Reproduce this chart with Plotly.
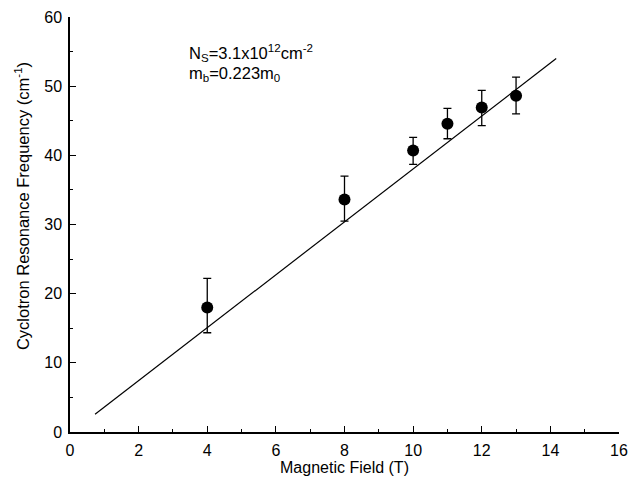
import plotly.graph_objects as go

field = [4, 8, 10, 11, 12, 13]
freq = [18.0, 33.6, 40.7, 44.55, 46.9, 48.6]
err_plus = [4.2, 3.4, 1.9, 2.25, 2.5, 2.7]
err_minus = [3.65, 3.1, 2.0, 2.15, 2.6, 2.6]
fit_x = [0.73, 14.17]
fit_y = [2.56, 54.0]

fig = go.Figure()
fig.add_trace(go.Scatter(x=fit_x, y=fit_y, mode="lines",
                         line=dict(color="black", width=1.2), showlegend=False))
fig.add_trace(go.Scatter(x=field, y=freq, mode="markers",
                         marker=dict(color="black", size=12),
                         error_y=dict(type="data", symmetric=False, array=err_plus,
                                      arrayminus=err_minus, color="black",
                                      thickness=1.3, width=4),
                         showlegend=False))

font = dict(family="Liberation Sans, Arial, sans-serif", color="black")
fig.add_annotation(x=0.213, y=0.913, xref="paper", yref="paper", xanchor="left",
                   yanchor="middle", showarrow=False,
                   text="N<sub>S</sub>=3.1x10<sup>12</sup>cm<sup>-2</sup>",
                   font=dict(size=16.5, **font))
fig.add_annotation(x=0.213, y=0.862, xref="paper", yref="paper", xanchor="left",
                   yanchor="middle", showarrow=False,
                   text="m<sub>b</sub>=0.223m<sub>0</sub>",
                   font=dict(size=16.5, **font))
# y-axis title (placed as in the reference, slightly above the axis centre)
fig.add_annotation(x=-0.087, y=0.545, xref="paper", yref="paper", xanchor="center",
                   yanchor="middle", showarrow=False, textangle=-90,
                   text="Cyclotron Resonance Frequency (cm<sup>-1</sup>)",
                   font=dict(size=16.5, **font))

axis_common = dict(showline=True, linecolor="black", linewidth=1.5, ticks="inside",
                   ticklen=6, tickcolor="black", tickwidth=1.3, showgrid=False,
                   zeroline=False, tickfont=dict(size=16, **font), mirror=False,
                   automargin=False)
fig.update_xaxes(range=[0, 16], dtick=2, tick0=0, ticklabelstandoff=3,
                 minor=dict(ticks="inside", ticklen=3, dtick=1, tickcolor="black"),
                 title=dict(text="Magnetic Field (T)", font=dict(size=16, **font), standoff=3),
                 **axis_common)
fig.update_yaxes(range=[0, 60], dtick=10, tick0=0, ticklabelstandoff=3,
                 minor=dict(ticks="inside", ticklen=3, dtick=5, tickcolor="black"),
                 **axis_common)
fig.update_layout(width=629, height=489, margin=dict(l=70, r=10, t=17, b=57),
                  plot_bgcolor="white", paper_bgcolor="white", font=font)
fig.write_html("out.html", config={"displayModeBar": False},
               post_script="document.body.style.margin='0';document.body.style.overflow='hidden';")
